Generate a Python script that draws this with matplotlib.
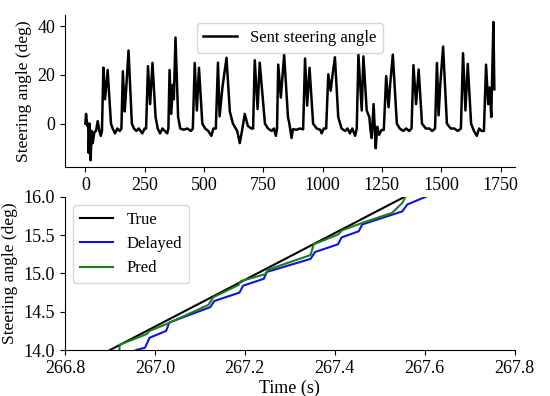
import matplotlib
matplotlib.use("Agg")
import matplotlib.pyplot as plt

plt.rcParams['font.family'] = ['Liberation Serif', 'DejaVu Serif']
plt.rcParams['font.size'] = 13
plt.rcParams['mathtext.fontset'] = 'stix'

# ---- top panel: sent steering angle (sample index vs deg) ----
x_top = [0, 3, 8, 12, 14, 18, 22, 27, 31, 38, 45, 52, 59, 65, 70,
         76, 83, 94, 108, 115, 125, 135, 145, 152,
         158, 166, 172, 182, 196, 205, 215, 225, 240, 250, 256,
         264, 273, 283, 296, 305, 315, 325, 335, 345, 350,
         355, 362, 369, 373, 380, 391, 400, 415, 430, 445, 453,
         461, 470, 479, 493, 505, 518, 531, 540, 550,
         559, 566, 578, 595, 609, 622, 640, 651, 662, 672, 685, 700, 707,
         714, 726, 735, 757, 770, 785, 795, 803, 808,
         813, 824, 838, 854, 860, 869, 875, 890, 905, 918,
         926, 935, 945, 960, 975, 990, 996, 1005, 1015,
         1024, 1034, 1042, 1052, 1066, 1080, 1095, 1105, 1115, 1125, 1137, 1144,
         1151, 1165, 1172, 1186, 1197, 1202, 1207, 1215, 1224, 1230, 1238, 1248, 1258,
         1268, 1278, 1285, 1296, 1313, 1325, 1340, 1352, 1365, 1375,
         1383, 1394, 1405, 1419, 1435, 1450, 1462, 1474,
         1482, 1489, 1496, 1508, 1524, 1540, 1555, 1570, 1583,
         1592, 1602, 1612, 1626, 1638, 1650, 1660, 1670, 1680,
         1689, 1698, 1704, 1711, 1720, 1724]
y_top = [0, 4, -1, 0, -12, 0, -15, -3, -8, -3.5, -3, 1, -3, -5, -3,
         23, 10, 22, 0, -2, -4, -2, -3, -2,
         21.5, 5, 14, 30, 0, -2, -3, -2, -4, -2, -2,
         23.6, 8, 24.9, 2.7, -2, -4, -2, -3, -4, -2,
         22, 4, 16, 10, 35.3, 2.7, -2, -2.5, -2, -3, -2,
         24.9, 5.4, 22.9, 0, -2, -3, -5, -2, -2,
         25, 3, 15, 27, 5, 0, -3, -8, -2, 4, -1, -2, -2,
         26, 6, 25, 0, -2, -3, -2, -5, -2,
         24.2, 10.7, 28.3, 2.7, 0, -5.9, -2.3, -2.5, -2, -2.3,
         26.7, 7.4, 22.9, 0, -2, -2.5, -4, -2, -2,
         20.2, 13.5, 20, 27.2, 2.7, -2, -3, -2, -4, -2, -5, -2,
         28.3, 5.4, 27.6, 5.4, 2.7, -2.7, -5.9, 8, -10.1, -1.3, -4.6, -2.6, -2.6,
         19.5, 6.7, 16.2, 28.3, 0, -2, -3, -2, -3, -2,
         24, 8, 22.2, 0, -2, -2, -3, -2,
         24.9, 3.4, 16, 31.6, 0, -2, -2, -3, -2,
         28.9, 5.4, 24.5, 0, -3, -5, -2, -3, -3,
         24.2, 8, 14.8, 2.7, 41.7, 14.1]

# ---- bottom panel: zoom on time axis ----
t_true = [266.900, 267.555]
v_true = [14.00, 16.00]

t_delayed = [266.958, 266.978, 266.988, 267.025, 267.032, 267.123, 267.132,
             267.188, 267.196, 267.242, 267.249, 267.346, 267.356, 267.407,
             267.415, 267.453, 267.461, 267.550, 267.561, 267.602]
v_delayed = [14.00, 14.03, 14.16, 14.25, 14.36, 14.56, 14.64,
             14.75, 14.84, 14.93, 15.02, 15.19, 15.28, 15.38,
             15.47, 15.55, 15.64, 15.81, 15.90, 16.00]

t_pred = [266.921, 266.922, 266.982, 266.988, 267.026, 267.119,
          267.130, 267.186, 267.191, 267.245, 267.252, 267.346, 267.353,
          267.408, 267.415, 267.461, 267.527, 267.550, 267.557]
v_pred = [14.00, 14.07, 14.21, 14.25, 14.34, 14.59,
          14.69, 14.85, 14.90, 14.99, 15.05, 15.24, 15.38,
          15.51, 15.56, 15.66, 15.79, 15.92, 16.00]

fig = plt.figure(figsize=(5.5, 3.96), dpi=100)
ax1 = fig.add_axes([0.118, 0.578, 0.818, 0.384])
ax2 = fig.add_axes([0.118, 0.116, 0.818, 0.387])

ax1.plot(x_top, y_top, color='black', lw=1.8, label='Sent steering angle')
ax1.set_xticks([0, 250, 500, 750, 1000, 1250, 1500, 1750])
ax1.set_yticks([0, 20, 40])
ax1.set_ylabel('Steering angle (deg)', fontsize=12.5)
ax1.legend(loc='upper center', framealpha=0.8, borderpad=0.4,
           handlelength=2.0, fontsize=12)
for s in ('top', 'right'):
    ax1.spines[s].set_visible(False)

ax2.plot(t_true, v_true, color='black', lw=1.5, label='True')
ax2.plot(t_delayed, v_delayed, color='#0a14e6', lw=1.5, label='Delayed')
ax2.plot(t_pred, v_pred, color='#1a7f1a', lw=1.5, label='Pred')
ax2.set_xlim(266.8, 267.8)
ax2.set_ylim(14.0, 16.0)
ax2.set_xticks([266.8, 267.0, 267.2, 267.4, 267.6, 267.8])
ax2.set_yticks([14.0, 14.5, 15.0, 15.5, 16.0])
ax2.set_xlabel('Time (s)', labelpad=2)
ax2.set_ylabel('Steering angle (deg)', fontsize=12.5)
ax2.legend(loc='upper left', framealpha=0.8, borderpad=0.4,
           handlelength=2.0, fontsize=12)
for s in ('top', 'right'):
    ax2.spines[s].set_visible(False)

fig.savefig('out.png', dpi=100)
